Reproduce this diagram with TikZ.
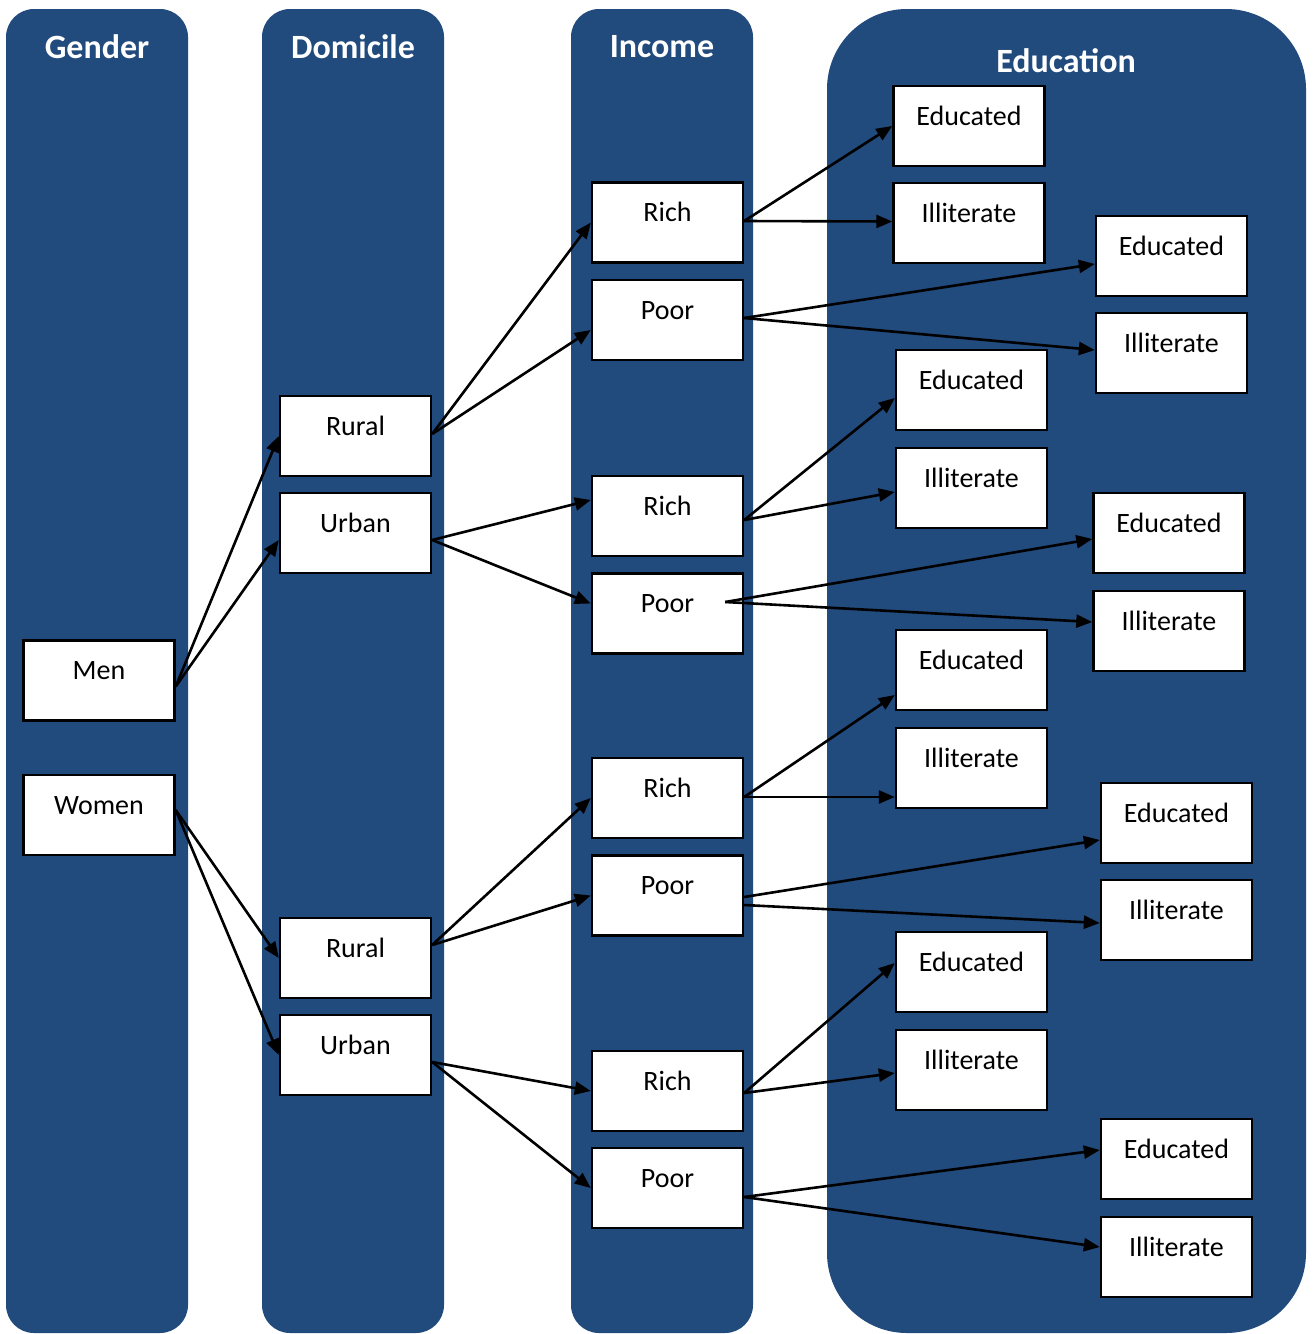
\documentclass[tikz,border=0pt]{standalone}
\usepackage{fontspec}
\setmainfont{Carlito}
\usetikzlibrary{arrows.meta}
\definecolor{colblue}{HTML}{214A7D}
\begin{document}
\begin{tikzpicture}[x=1pt,y=-1pt,
  column/.style={fill=colblue,draw=none},
  head/.style={text=white,font=\fontsize{34}{40}\selectfont\bfseries,inner sep=0pt},
  box/.style={draw=black,line width=2.4pt,fill=white,minimum width=151pt,
    inner sep=0pt,text height=39pt,text depth=41pt,
    font=\fontsize{28}{32}\selectfont},
  arr/.style={line width=2.6pt,-{Triangle[length=16pt,width=13pt]}}]
\useasboundingbox (0,0) rectangle (1314,1334);
% columns
\fill[column,rounded corners=28pt] (6,9) rectangle (188,1333);
\fill[column,rounded corners=28pt] (262,9) rectangle (444,1333);
\fill[column,rounded corners=28pt] (571,9) rectangle (753,1333);
\fill[column,rounded corners=80pt] (827,9) rectangle (1306,1333);
\node[head] (hgender) at (97,47) {Gender};
\node[head] (hdomicile) at (353,47) {Domicile};
\node[head] (hincome) at (662,47) {Income};
\node[head] (heducation) at (1066,61) {Education};
% gender
\node[box] (men) at (99,680.5) {Men};
\node[box] (women) at (99,815) {Women};
% domicile
\node[box] (rural1) at (355.5,436) {Rural};
\node[box] (urban1) at (355.5,533) {Urban};
\node[box] (rural2) at (355.5,958) {Rural};
\node[box] (urban2) at (355.5,1055) {Urban};
% income
\node[box] (rich1) at (667.5,222.5) {Rich};
\node[box] (poor1) at (667.5,320) {Poor};
\node[box] (rich2) at (667.5,516) {Rich};
\node[box] (poor2) at (667.5,613.5) {Poor};
\node[box] (rich3) at (667.5,798) {Rich};
\node[box] (poor3) at (667.5,895.5) {Poor};
\node[box] (rich4) at (667.5,1091) {Rich};
\node[box] (poor4) at (667.5,1188) {Poor};
% education
\node[box] (ed1) at (969,126) {Educated};
\node[box] (ill1) at (969,223) {Illiterate};
\node[box] (ed2) at (1171.5,256) {Educated};
\node[box] (ill2) at (1171.5,353) {Illiterate};
\node[box] (ed3) at (971.5,390) {Educated};
\node[box] (ill3) at (971.5,488) {Illiterate};
\node[box] (ed4) at (1169,533) {Educated};
\node[box] (ill4) at (1169,631) {Illiterate};
\node[box] (ed5) at (971.5,670) {Educated};
\node[box] (ill5) at (971.5,768) {Illiterate};
\node[box] (ed6) at (1176.5,823) {Educated};
\node[box] (ill6) at (1176.5,920) {Illiterate};
\node[box] (ed7) at (971.5,972) {Educated};
\node[box] (ill7) at (971.5,1070) {Illiterate};
\node[box] (ed8) at (1176.5,1159) {Educated};
\node[box] (ill8) at (1176.5,1257) {Illiterate};
% gender -> domicile
\draw[arr] ([yshift=-6pt]men.east) -- (rural1.west);
\draw[arr] ([yshift=-6pt]men.east) -- ([yshift=-7pt]urban1.west);
\draw[arr] ([yshift=5pt]women.east) -- (rural2.west);
\draw[arr] ([yshift=5pt]women.east) -- (urban2.west);
% domicile -> income
\draw[arr] ([yshift=2pt]rural1.east) -- (rich1.west);
\draw[arr] ([yshift=2pt]rural1.east) -- ([yshift=-10pt]poor1.west);
\draw[arr] ([yshift=-7pt]urban1.east) -- ([yshift=16pt]rich2.west);
\draw[arr] ([yshift=-7pt]urban1.east) -- ([yshift=10pt]poor2.west);
\draw[arr] ([yshift=13pt]rural2.east) -- (rich3.west);
\draw[arr] ([yshift=13pt]rural2.east) -- (poor3.west);
\draw[arr] ([yshift=-7pt]urban2.east) -- (rich4.west);
\draw[arr] ([yshift=-7pt]urban2.east) -- (poor4.west);
% income -> education
\draw[arr] ([yshift=1.5pt]rich1.east) -- (ed1.west);
\draw[arr] ([yshift=1.5pt]rich1.east) -- ([yshift=1.5pt]ill1.west);
\draw[arr] ([yshift=2pt]poor1.east) -- ([yshift=-8pt]ed2.west);
\draw[arr] ([yshift=2pt]poor1.east) -- ([yshift=3pt]ill2.west);
\draw[arr] ([yshift=-4pt]rich2.east) -- ([yshift=-8pt]ed3.west);
\draw[arr] ([yshift=-4pt]rich2.east) -- ([yshift=-4pt]ill3.west);
\draw[arr] ([xshift=-19pt,yshift=11.5pt]poor2.east) -- ([yshift=-6pt]ed4.west);
\draw[arr] ([xshift=-19pt,yshift=11.5pt]poor2.east) -- ([yshift=9pt]ill4.west);
\draw[arr] ([yshift=1pt]rich3.east) -- ([yshift=-25pt]ed5.west);
\draw[arr] ([yshift=1pt]rich3.east) -- ([yshift=-29pt]ill5.west);
\draw[arr] ([yshift=-1.5pt]poor3.east) -- ([yshift=-17pt]ed6.west);
\draw[arr] ([yshift=-9.5pt]poor3.east) -- ([yshift=-3pt]ill6.west);
\draw[arr] ([yshift=-2pt]rich4.east) -- ([yshift=9pt]ed7.west);
\draw[arr] ([yshift=-2pt]rich4.east) -- ([yshift=-3pt]ill7.west);
\draw[arr] ([yshift=-9pt]poor4.east) -- ([yshift=9pt]ed8.west);
\draw[arr] ([yshift=-9pt]poor4.east) -- ([yshift=10pt]ill8.west);
\end{tikzpicture}
\end{document}
